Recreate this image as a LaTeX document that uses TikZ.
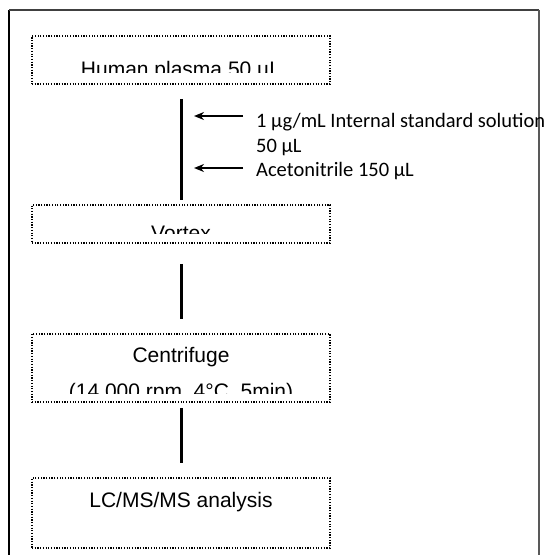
\documentclass[tikz,border=0pt]{standalone}
\usepackage{fontspec}
\newfontfamily\boxfont{Liberation Sans}
\newfontfamily\notefont{Carlito}
\usetikzlibrary{arrows.meta}

\tikzset{
  stepbox/.style={draw=black, dash pattern=on 1.2pt off 1.5pt, line width=1.6pt,
    minimum width=298pt, inner sep=0pt, fill=none},
  steptext/.style={font=\boxfont\fontsize{21}{25}\selectfont, inner sep=0pt, anchor=base},
  notetext/.style={font=\notefont\fontsize{20.5}{24}\selectfont, inner sep=0pt, anchor=base west},
  conn/.style={line width=3pt, black},
  addarrow/.style={line width=1.8pt, black, -{Stealth[length=10pt,width=8pt]}},
  frameline/.style={line width=1.2pt}
}

\begin{document}
\begin{tikzpicture}[x=1pt, y=-1pt]
  \useasboundingbox (0,0) rectangle (558,555);
  \fill[white] (0,0) rectangle (558,555);

  % outer frame (open at the bottom)
  \draw[frameline, black] (9,555) -- (9,10);
  \draw[frameline, black!75, line width=1.6pt] (9,10) -- (539,10);
  \draw[frameline, black!65, line width=2.2pt] (539,10) -- (539,555);

  % process steps
  \node[stepbox, minimum height=48pt] (b1) at (181,60) {};
  \node[stepbox, minimum height=38pt] (b2) at (181,224) {};
  \node[stepbox, minimum height=68pt] (b3) at (181,368) {};
  \node[stepbox, minimum height=70pt] (b4) at (181,513) {};

  % step labels, cut off by the inner margin of their boxes
  \begin{scope}
    \clip (32,36) rectangle (330,72);
    \node[steptext] (t1) at (181,76) {Human plasma 50 µL};
  \end{scope}
  \begin{scope}
    \clip (32,205) rectangle (330,233);
    \node[steptext] (t2) at (181,240) {Vortex};
  \end{scope}
  \begin{scope}
    \clip (32,334) rectangle (330,393);
    \node[steptext] (t3) at (181,362) {Centrifuge};
    \node[steptext] (t3b) at (181,398) {(14,000 rpm, 4°C, 5min)};
  \end{scope}
  \node[steptext] (t4) at (181,507) {LC/MS/MS analysis};

  % connectors between steps
  \draw[conn] ([yshift=-14pt]b1.south) -- ([yshift=4pt]b2.north);
  \draw[conn] ([yshift=-20pt]b2.south) -- ([yshift=14pt]b3.north);
  \draw[conn] ([yshift=-5pt]b3.south) -- ([yshift=14pt]b4.north);

  % reagents added after the plasma step
  \node[notetext] (n1) at (256,127) {1 µg/mL Internal standard solution};
  \node[notetext] (n2) at (256,152) {50 µL};
  \node[notetext] (n3) at (256,176) {Acetonitrile 150 µL};

  \coordinate (a1s) at (243,116);
  \coordinate (a1e) at (194,116);
  \coordinate (a2s) at (243,168);
  \coordinate (a2e) at (194,168);
  \draw[addarrow] (a1s) -- (a1e);
  \draw[addarrow] (a2s) -- (a2e);
\end{tikzpicture}
\end{document}
